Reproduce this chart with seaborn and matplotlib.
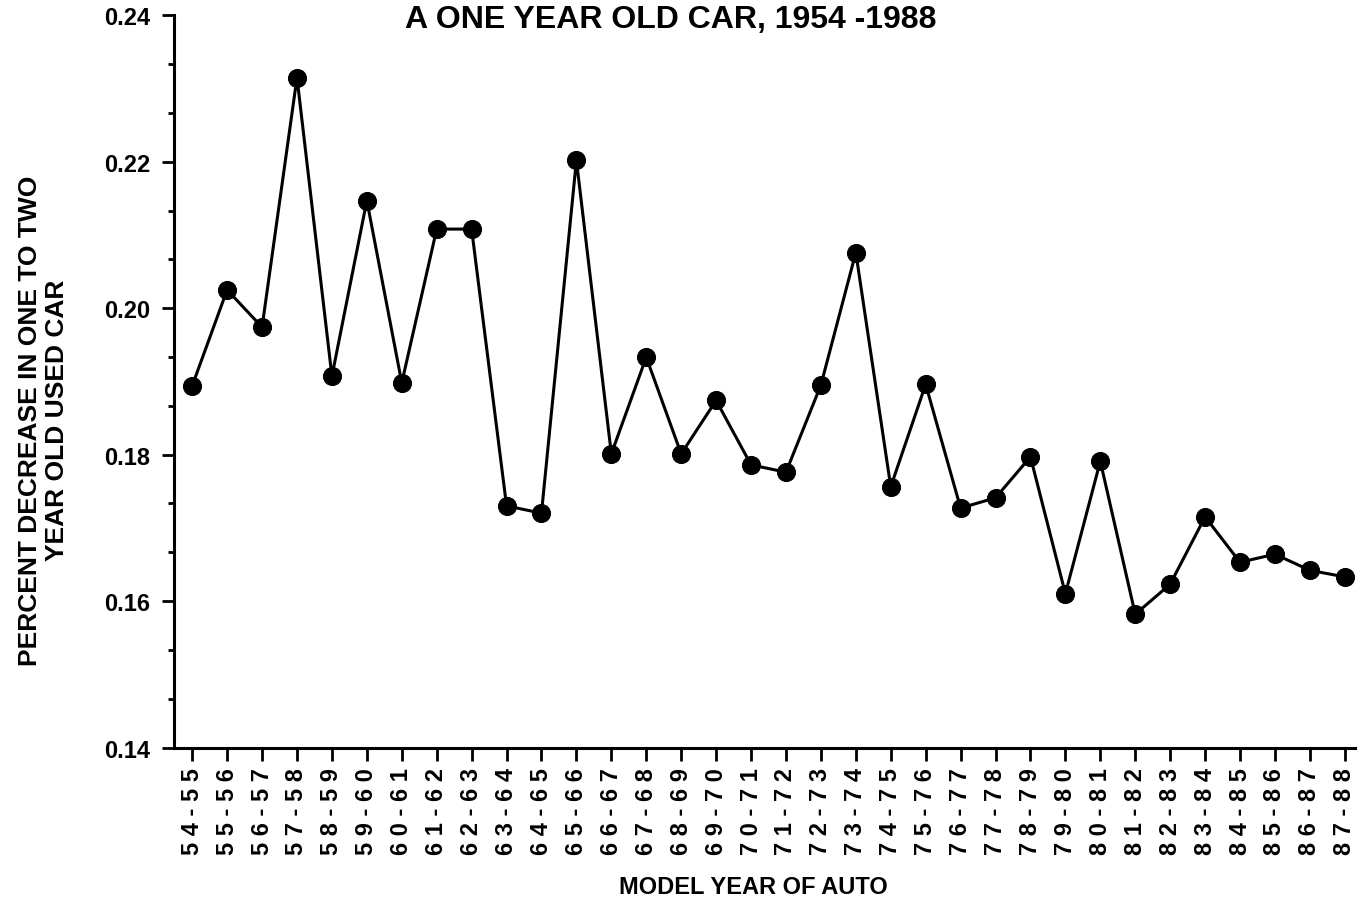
import numpy as np
import pandas as pd
import matplotlib
matplotlib.use("Agg")
import matplotlib.pyplot as plt
import seaborn as sns
from matplotlib.ticker import MultipleLocator

# model year pairs and the percent decrease in value (one to two year old car)
model_years = ["54-55", "55-56", "56-57", "57-58", "58-59", "59-60", "60-61",
               "61-62", "62-63", "63-64", "64-65", "65-66", "66-67", "67-68",
               "68-69", "69-70", "70-71", "71-72", "72-73", "73-74", "74-75",
               "75-76", "76-77", "77-78", "78-79", "79-80", "80-81", "81-82",
               "82-83", "83-84", "84-85", "85-86", "86-87", "87-88"]
pct_decrease = [0.1894, 0.2025, 0.1974, 0.2315, 0.1907, 0.2147, 0.1898,
                0.2108, 0.2108, 0.1730, 0.1720, 0.2202, 0.1801, 0.1933,
                0.1801, 0.1874, 0.1786, 0.1776, 0.1895, 0.2076, 0.1756,
                0.1896, 0.1727, 0.1741, 0.1797, 0.1610, 0.1791, 0.1582,
                0.1623, 0.1715, 0.1653, 0.1664, 0.1642, 0.1633]
y_ticks = [0.14, 0.16, 0.18, 0.20, 0.22, 0.24]

df = pd.DataFrame({"pos": np.arange(len(model_years)), "pct": pct_decrease})

sns.set_style("ticks")
plt.rcParams["font.family"] = ["Liberation Sans", "DejaVu Sans"]
plt.rcParams["font.weight"] = "bold"
for key in ["text.color", "axes.labelcolor", "xtick.color", "ytick.color",
            "axes.edgecolor"]:
    plt.rcParams[key] = "black"

fig = plt.figure(figsize=(13.64, 9.04), dpi=100)
ax = fig.add_axes([0.1276, 0.172, 0.866, 0.810])

sns.lineplot(data=df, x="pos", y="pct", color="black", linewidth=2.2,
             marker="o", markersize=13, markeredgecolor="black", ax=ax)

ax.set_ylim(0.14, 0.24)
ax.set_xlim(-0.52, 33.3)
ax.yaxis.set_minor_locator(MultipleLocator(0.02 / 3))
ax.set_yticks(y_ticks)
ax.set_yticklabels([f"{t:.2f}" for t in y_ticks], fontsize=17,
                   fontweight="bold")
ax.set_xticks(range(len(model_years)))
ax.set_xticklabels([" ".join(m) for m in model_years], rotation=90,
                   fontsize=17, fontweight="bold")

ax.tick_params(axis="both", which="major", length=9, width=2, pad=5)
ax.tick_params(axis="y", which="major", pad=8)
ax.tick_params(axis="y", which="minor", length=4, width=2)
sns.despine(ax=ax)
for side in ["left", "bottom"]:
    ax.spines[side].set_linewidth(2.2)

ax.set_xlabel("")
ax.set_ylabel("")

fig.text(0.492, 0.978, "A ONE YEAR OLD CAR, 1954 -1988", ha="center",
         va="center", fontsize=23, fontweight="bold")
fig.text(0.032, 0.535, "PERCENT DECREASE IN ONE TO TWO\nYEAR OLD USED CAR",
         ha="center", va="center", rotation=90, fontsize=19,
         fontweight="bold", linespacing=1.15)
fig.text(0.552, 0.018, "MODEL YEAR OF AUTO", ha="center", va="center",
         fontsize=17, fontweight="bold")

fig.savefig("out.png", dpi=100)
